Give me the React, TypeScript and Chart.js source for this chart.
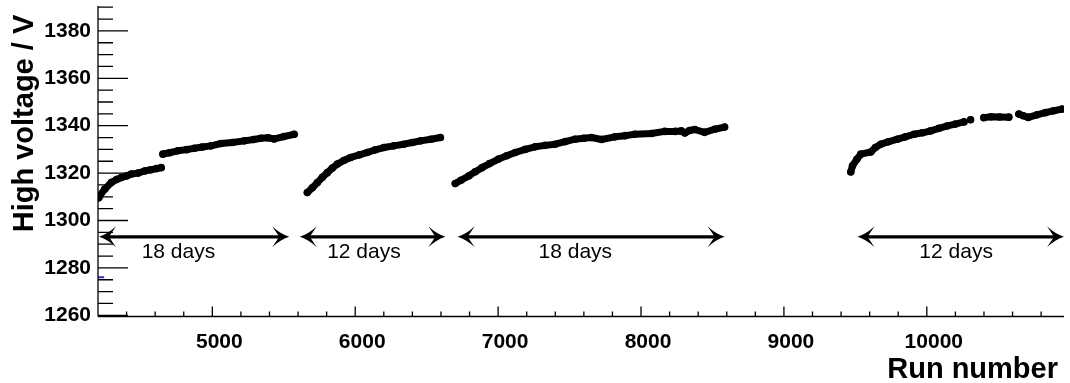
import React, { useEffect, useRef } from "react";
import { Chart, registerables } from "chart.js";

Chart.register(...registerables);

// ---- Data (run number vs high voltage) ----
const period1aRuns = [4205, 4212, 4247, 4293, 4330, 4363, 4400, 4433, 4480, 4526, 4570, 4610, 4642];
const period1aHV = [1309.6, 1310.4, 1313.2, 1316.0, 1317.3, 1318.1, 1318.8, 1319.6, 1320.0, 1320.9, 1321.4, 1321.9, 1322.3];

const period1bRuns = [4654, 4700, 4758, 4820, 4875, 4930, 4991, 5061, 5140, 5224, 5290, 5340, 5390, 5433, 5500, 5573];
const period1bHV = [1328.0, 1328.6, 1329.4, 1329.9, 1330.5, 1331.0, 1331.5, 1332.5, 1332.9, 1333.6, 1334.2, 1334.7, 1334.9, 1334.4, 1335.4, 1336.4];

const period2Runs = [5665, 5700, 5735, 5770, 5805, 5840, 5875, 5920, 5968, 6030, 6084, 6140, 6201, 6270, 6340, 6400, 6457, 6530, 6596];
const period2HV = [1311.8, 1313.8, 1316.0, 1318.2, 1320.2, 1322.1, 1323.8, 1325.3, 1326.6, 1327.7, 1328.7, 1329.8, 1330.8, 1331.5, 1332.2, 1332.9, 1333.6, 1334.3, 1335.0];

const period3Runs = [6700, 6740, 6794, 6840, 6887, 6940, 7003, 7060, 7120, 7190, 7259, 7330, 7399, 7470, 7538, 7600, 7654, 7724, 7817, 7890, 7957, 8073, 8166, 8240, 8282, 8306, 8340, 8376, 8445, 8515, 8585];
const period3HV = [1315.6, 1317.0, 1318.8, 1320.6, 1322.3, 1324.0, 1325.9, 1327.3, 1328.7, 1330.0, 1331.1, 1331.7, 1332.2, 1333.3, 1334.3, 1334.7, 1335.0, 1334.2, 1335.3, 1335.8, 1336.4, 1336.7, 1337.6, 1337.6, 1337.8, 1336.9, 1338.0, 1338.4, 1337.2, 1338.5, 1339.4];

const period4aRuns = [9468, 9480, 9510, 9538, 9608, 9640, 9678, 9730, 9794, 9850, 9911, 9970, 10027, 10085, 10143, 10200, 10260];
const period4aHV = [1320.5, 1323.1, 1325.8, 1328.0, 1328.9, 1330.8, 1332.2, 1333.2, 1334.3, 1335.3, 1336.4, 1337.0, 1337.8, 1338.9, 1339.9, 1340.7, 1341.6];

const period4bRuns = [10306];
const period4bHV = [1342.5];

const period4cRuns = [10399, 10450, 10510, 10574];
const period4cHV = [1343.4, 1343.8, 1343.7, 1343.6];

const period4dRuns = [10644, 10675, 10710, 10771, 10830, 10888, 10946];
const period4dHV = [1344.9, 1344.2, 1343.5, 1344.6, 1345.5, 1346.3, 1347.0];

const strayRuns = [4222];
const strayHV = [1276.1];

// ---- Axes ----
const xMin = 4200;
const xMax = 10960;
const yMin = 1259.5;
const yMax = 1390.5;
const xTickValues = [5000, 6000, 7000, 8000, 9000, 10000];
const yTickValues = [1260, 1280, 1300, 1320, 1340, 1360, 1380];

// ---- Annotations (duration arrows) ----
const arrowStartRuns = [4207, 5612, 6717, 9515];
const arrowEndRuns = [5538, 6631, 8585, 10960];
const arrowLabels = ["18 days", "12 days", "18 days", "12 days"];
const arrowLabelRuns = [4763, 6061, 7540, 10205];
const arrowLevelHV = 1293.1;
const arrowLabelHV = 1284.3;

const yTitle = "High voltage / V";
const xTitle = "Run number";

const FONT = "'Liberation Sans', Arial, Helvetica, sans-serif";

function pts(xs: number[], ys: number[]) {
  return xs.map((v, i) => ({ x: v, y: ys[i] }));
}

function drawHead(ctx: CanvasRenderingContext2D, tipX: number, y: number, dir: number) {
  // dir = +1 tip pointing right, -1 tip pointing left
  const L = 17;
  const H = 10.5;
  const N = 10;
  ctx.beginPath();
  ctx.moveTo(tipX, y);
  ctx.quadraticCurveTo(tipX - dir * L * 0.55, y - H * 0.3, tipX - dir * L, y - H);
  ctx.lineTo(tipX - dir * N, y);
  ctx.lineTo(tipX - dir * L, y + H);
  ctx.quadraticCurveTo(tipX - dir * L * 0.55, y + H * 0.3, tipX, y);
  ctx.closePath();
  ctx.fill();
}

const rootAxesPlugin = {
  id: "rootAxes",
  afterDraw(chart: any) {
    const { ctx, chartArea: a, scales } = chart;
    const xs = scales.x;
    const ys = scales.y;
    ctx.save();
    ctx.strokeStyle = "#000";
    ctx.fillStyle = "#000";
    ctx.lineWidth = 1.3;

    // y axis line + ticks (inside)
    ctx.beginPath();
    ctx.moveTo(a.left, a.top);
    ctx.lineTo(a.left, a.bottom);
    for (let v = 1260; v <= yMax; v += 5) {
      const py = ys.getPixelForValue(v);
      const len = v % 20 === 0 ? 30 : 15;
      ctx.moveTo(a.left, py);
      ctx.lineTo(a.left + len, py);
    }
    // x axis line + ticks (inside)
    ctx.moveTo(a.left, a.bottom);
    ctx.lineTo(a.right, a.bottom);
    for (let v = 4400; v <= xMax; v += 200) {
      const px = xs.getPixelForValue(v);
      const len = v % 1000 === 0 ? 10 : 5;
      ctx.moveTo(px, a.bottom);
      ctx.lineTo(px, a.bottom - len);
    }
    ctx.stroke();

    // arrows
    const ay = ys.getPixelForValue(arrowLevelHV);
    const ly = ys.getPixelForValue(arrowLabelHV);
    ctx.lineWidth = 3.2;
    arrowStartRuns.forEach((s, i) => {
      const x1 = xs.getPixelForValue(s);
      const x2 = Math.min(xs.getPixelForValue(arrowEndRuns[i]), 1068);
      ctx.beginPath();
      ctx.moveTo(x1 + 8, ay);
      ctx.lineTo(x2 - 8, ay);
      ctx.stroke();
      drawHead(ctx, x1, ay, -1);
      drawHead(ctx, x2, ay, 1);
      ctx.font = `21px ${FONT}`;
      ctx.textAlign = "center";
      ctx.textBaseline = "alphabetic";
      ctx.fillText(arrowLabels[i], xs.getPixelForValue(arrowLabelRuns[i]), ly);
    });

    // axis titles
    ctx.font = `bold 29px ${FONT}`;
    ctx.textBaseline = "alphabetic";
    ctx.textAlign = "right";
    ctx.fillText(xTitle, 1058, 378);

    ctx.save();
    ctx.translate(33, 123.5);
    ctx.rotate(-Math.PI / 2);
    ctx.textAlign = "center";
    ctx.fillText(yTitle, 0, 0);
    ctx.restore();

    ctx.restore();
  },
};

export default function App() {
  const canvasRef = useRef<HTMLCanvasElement | null>(null);

  useEffect(() => {
    const canvas = canvasRef.current;
    if (!canvas) return;
    const lineStyle = {
      borderColor: "#000",
      backgroundColor: "#000",
      borderWidth: 7,
      pointRadius: 3.8,
      pointBorderWidth: 0,
      pointHoverRadius: 0,
      showLine: true,
      borderCapStyle: "round" as const,
      borderJoinStyle: "round" as const,
      tension: 0,
    };
    const segs = [
      [period1aRuns, period1aHV],
      [period1bRuns, period1bHV],
      [period2Runs, period2HV],
      [period3Runs, period3HV],
      [period4aRuns, period4aHV],
      [period4bRuns, period4bHV],
      [period4cRuns, period4cHV],
      [period4dRuns, period4dHV],
    ];
    const datasets: any[] = segs.map(([r, h]) => ({ ...lineStyle, data: pts(r, h) }));
    datasets.push({
      data: pts(strayRuns, strayHV),
      showLine: false,
      pointStyle: "line",
      pointRadius: 3,
      borderWidth: 2,
      borderColor: "#2b2bd6",
      backgroundColor: "#2b2bd6",
    });

    const chart = new Chart(canvas, {
      type: "scatter",
      data: { datasets },
      options: {
        animation: false,
        responsive: false,
        events: [],
        layout: { padding: { top: 5, right: 3, left: 0, bottom: 0 } },
        plugins: { legend: { display: false }, tooltip: { enabled: false } },
        scales: {
          x: {
            type: "linear",
            min: xMin,
            max: xMax,
            grid: { display: false, drawTicks: false },
            border: { display: false },
            afterBuildTicks: (s: any) => {
              s.ticks = xTickValues.map((v) => ({ value: v }));
            },
            afterFit: (s: any) => {
              s.height = 66.5;
              s.paddingLeft = 0;
              s.paddingRight = 0;
              s.paddingTop = 0;
              s.paddingBottom = 0;
            },
            ticks: {
              color: "#000",
              font: { family: FONT, size: 21, weight: "bold" },
              padding: 13,
              labelOffset: 7,
              maxRotation: 0,
              autoSkip: false,
              callback: (v: any) => String(v),
            },
          },
          y: {
            type: "linear",
            min: yMin,
            max: yMax,
            grid: { display: false, drawTicks: false },
            border: { display: false },
            afterBuildTicks: (s: any) => {
              s.ticks = yTickValues.map((v) => ({ value: v }));
            },
            afterFit: (s: any) => {
              s.width = 98;
              s.paddingLeft = 0;
              s.paddingRight = 0;
              s.paddingTop = 0;
              s.paddingBottom = 0;
            },
            ticks: {
              color: "#000",
              font: { family: FONT, size: 21, weight: "bold" },
              padding: 7,
              autoSkip: false,
              callback: (v: any) => String(v),
            },
          },
        },
      },
      plugins: [rootAxesPlugin],
    });
    return () => chart.destroy();
  }, []);

  return (
    <div style={{ position: "fixed", left: 0, top: 0, width: 1070, height: 383, background: "#fff" }}>
      <canvas ref={canvasRef} width={1070} height={383} style={{ display: "block", width: 1070, height: 383 }} />
    </div>
  );
}
